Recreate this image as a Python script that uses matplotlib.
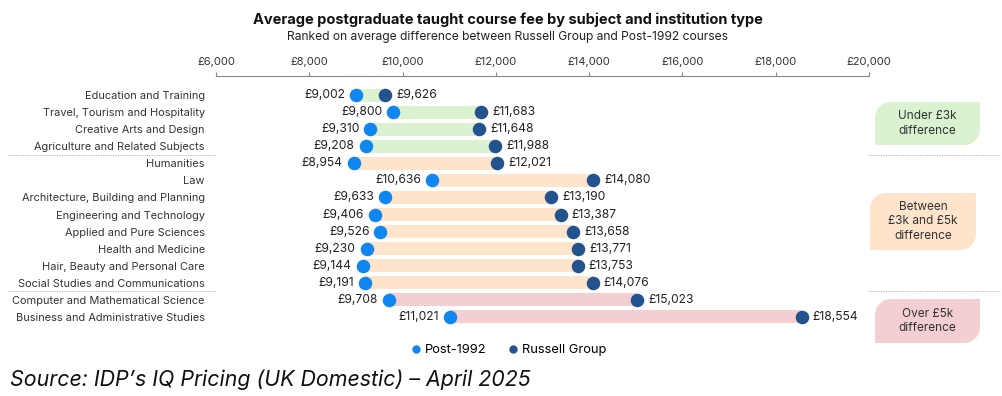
import matplotlib.pyplot as plt
from matplotlib.path import Path
from matplotlib.patches import PathPatch
from matplotlib.lines import Line2D

plt.rcParams['font.family'] = ['Inter', 'DejaVu Sans']

subjects = [
    "Education and Training", "Travel, Tourism and Hospitality", "Creative Arts and Design",
    "Agriculture and Related Subjects", "Humanities", "Law",
    "Architecture, Building and Planning", "Engineering and Technology",
    "Applied and Pure Sciences", "Health and Medicine", "Hair, Beauty and Personal Care",
    "Social Studies and Communications", "Computer and Mathematical Science",
    "Business and Administrative Studies",
]
post_1992 = [9002, 9800, 9310, 9208, 8954, 10636, 9633, 9406, 9526, 9230, 9144, 9191, 9708, 11021]
russell = [9626, 11683, 11648, 11988, 12021, 14080, 13190, 13387, 13658, 13771, 13753, 14076, 15023, 18554]
groups = [0, 0, 0, 0, 1, 1, 1, 1, 1, 1, 1, 1, 2, 2]
group_names = ["Under £3k\ndifference", "Between\n£3k and £5k\ndifference", "Over £5k\ndifference"]
xticks = [6000, 8000, 10000, 12000, 14000, 16000, 18000, 20000]

band_colors = ["#daf2d0", "#fde4cb", "#f3cfd1"]
post_color = "#0f86f0"
russell_color = "#23538f"

fig = plt.figure(figsize=(10.03, 3.96), dpi=100)
W, H = 1003, 396

# main axes, placed by pixel
x0, x1 = 216, 869
y_top, y_bot = 86.5, 325.5
ax = fig.add_axes([x0 / W, 1 - y_bot / H, (x1 - x0) / W, (y_bot - y_top) / H])
n = len(subjects)
ax.set_xlim(6000, 20000)
ax.set_ylim(n - 0.5, -0.5)

for i in range(n):
    ax.barh(i, russell[i] - post_1992[i], left=post_1992[i], height=0.76,
            color=band_colors[groups[i]], zorder=1)
ax.scatter(post_1992, range(n), s=95, color=post_color, zorder=3, linewidths=0)
ax.scatter(russell, range(n), s=95, color=russell_color, zorder=3, linewidths=0)

for i in range(n):
    ax.annotate("£{:,}".format(post_1992[i]), (post_1992[i], i), xytext=(-8, 0),
                textcoords="offset points", ha="right", va="center", fontsize=8.7, color="#222222")
    ax.annotate("£{:,}".format(russell[i]), (russell[i], i), xytext=(8, 0),
                textcoords="offset points", ha="left", va="center", fontsize=8.7, color="#222222")

ax.set_yticks(range(n))
ax.set_yticklabels(subjects)
ax.tick_params(axis="y", length=0, pad=8, labelsize=7.9, labelcolor="#333333")

ax.xaxis.tick_top()
ax.set_xticks(xticks)
ax.set_xticklabels(["£{:,}".format(t) for t in xticks])
ax.tick_params(axis="x", length=3, color="#888888", pad=3.5, labelsize=8, labelcolor="#333333")
for s in ["bottom", "left", "right"]:
    ax.spines[s].set_visible(False)
ax.spines["top"].set_position(("outward", 7.5))
ax.spines["top"].set_color("#888888")
ax.spines["top"].set_linewidth(0.8)

# overlay in pixel coordinates for dividers, boxes and text
ov = fig.add_axes([0, 0, 1, 1], zorder=-1)
ov.set_xlim(0, W)
ov.set_ylim(H, 0)
ov.axis("off")
ov.patch.set_alpha(0)

for yy in [155, 291]:
    ov.plot([8, 1000], [yy, yy], color="#aaaaaa", lw=0.7, ls=(0, (1, 1.5)))


def leaf(xl, yt, xr, yb, r, color):
    k = 0.55 * r
    verts = [
        (xl, yt + r),
        (xl, yt + r - k), (xl + r - k, yt), (xl + r, yt),
        (xr, yt),
        (xr, yb - r),
        (xr, yb - r + k), (xr - r + k, yb), (xr - r, yb),
        (xl, yb),
        (xl, yt + r),
    ]
    codes = [Path.MOVETO, Path.CURVE4, Path.CURVE4, Path.CURVE4, Path.LINETO, Path.LINETO,
             Path.CURVE4, Path.CURVE4, Path.CURVE4, Path.LINETO, Path.CLOSEPOLY]
    ov.add_patch(PathPatch(Path(verts, codes), facecolor=color, edgecolor="none"))


boxes = [(875, 102, 980, 145), (870, 193, 976, 250), (875, 299, 980, 343)]
for g, (bl, bt, br, bb) in enumerate(boxes):
    leaf(bl, bt, br, bb, 16, band_colors[g])
    ov.text((bl + br) / 2, (bt + bb) / 2, group_names[g], ha="center", va="center",
            fontsize=8.5, color="#333333", linespacing=1.25)

fig.text(508 / W, 1 - 20 / H, "Average postgraduate taught course fee by subject and institution type",
         ha="center", va="center", fontsize=10.5, fontweight="bold", color="#111111")
fig.text(508 / W, 1 - 37 / H, "Ranked on average difference between Russell Group and Post-1992 courses",
         ha="center", va="center", fontsize=8.7, color="#222222")

handles = [
    Line2D([], [], marker="o", ls="none", color=post_color, markersize=5, label="Post-1992"),
    Line2D([], [], marker="o", ls="none", color=russell_color, markersize=5, label="Russell Group"),
]
fig.legend(handles=handles, loc="center", bbox_to_anchor=(508 / W, 1 - 350 / H), ncol=2,
           frameon=False, fontsize=9.3, handletextpad=0.2, columnspacing=1.5, handlelength=1)

fig.text(10 / W, 1 - 380 / H, "Source: IDP\u2019s IQ Pricing (UK Domestic) \u2013 April 2025",
         ha="left", va="center", fontsize=15.4, style="italic", color="#111111")

fig.savefig("out.png", dpi=100)
